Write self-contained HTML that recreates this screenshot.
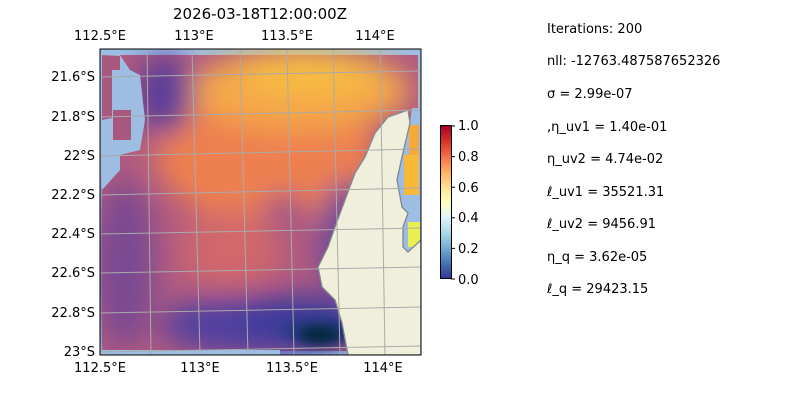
<!DOCTYPE html>
<html><head><meta charset="utf-8"><style>
body{margin:0;background:#fff;width:800px;height:400px;overflow:hidden;font-family:"Liberation Sans","DejaVu Sans",sans-serif}
svg text{font-family:"DejaVu Sans","Liberation Sans",sans-serif;fill:#000}
</style></head><body>
<svg width="800" height="400" viewBox="0 0 800 400" xmlns="http://www.w3.org/2000/svg">
<defs>
<linearGradient id="cb" x1="0" y1="1" x2="0" y2="0">
<stop offset="0" stop-color="#313695"/><stop offset="0.1" stop-color="#4575b4"/><stop offset="0.2" stop-color="#74add1"/><stop offset="0.3" stop-color="#abd9e9"/><stop offset="0.4" stop-color="#e0f3f8"/><stop offset="0.5" stop-color="#ffffbf"/><stop offset="0.6" stop-color="#fee090"/><stop offset="0.7" stop-color="#fdae61"/><stop offset="0.8" stop-color="#f46d43"/><stop offset="0.9" stop-color="#d73027"/><stop offset="1" stop-color="#a50026"/>
</linearGradient>
<filter id="bl" x="-50%" y="-50%" width="200%" height="200%"><feGaussianBlur stdDeviation="14"/></filter>
<filter id="bl2" x="-50%" y="-50%" width="200%" height="200%"><feGaussianBlur stdDeviation="6"/></filter>
<clipPath id="ax"><rect x="100" y="49" width="321" height="306"/></clipPath>
</defs>
<text x="260" y="19" font-size="15" text-anchor="middle">2026-03-18T12:00:00Z</text>
<g clip-path="url(#ax)">
<rect x="100" y="49" width="321" height="306" fill="#9dbde3"/>
<rect x="102" y="55" width="316" height="296" fill="#b05a80"/>
<g filter="url(#bl)">
<ellipse cx="265" cy="150" rx="110" ry="75" fill="#ee8050"/>
<ellipse cx="300" cy="90" rx="110" ry="40" fill="#f5a848"/>
<ellipse cx="310" cy="72" rx="70" ry="18" fill="#f8c040"/>
<ellipse cx="230" cy="250" rx="50" ry="40" fill="#d0686c"/>
<ellipse cx="165" cy="95" rx="28" ry="40" fill="#5a3e98"/>
<ellipse cx="125" cy="265" rx="30" ry="85" fill="#7a4a92"/>
<ellipse cx="260" cy="325" rx="100" ry="30" fill="#5040a0"/>
<ellipse cx="300" cy="320" rx="60" ry="25" fill="#3e3a9c"/>
<ellipse cx="345" cy="240" rx="25" ry="60" fill="#6a4a9a"/>
<ellipse cx="285" cy="210" rx="22" ry="16" fill="#9a5288"/>
</g>
<ellipse cx="320" cy="330" rx="40" ry="14" fill="#2a3a88" filter="url(#bl2)"/>
<ellipse cx="320" cy="335" rx="22" ry="9" fill="#062838" filter="url(#bl2)"/>
<path d="M102,56 L102,190 L120,170 L120,155 L140,150 L145,120 L140,75 L130,70 L120,55 Z" fill="#9dbde3"/>
<path d="M102,56 L102,120 L112,118 L112,70 L120,70 L120,56 Z" fill="#a8587e"/>
<rect x="113" y="110" width="18" height="30" fill="#a8587e"/>
<rect x="100" y="350" width="180" height="8" fill="#9dbde3"/>
<path d="M412,108 L418,108 L421,115 L421,240 L408,252 L403,247 L403,227 L408,213 L402,207 L397,180 L402,157 L410,123 Z" fill="#9dbde3"/>
<rect x="409" y="125" width="10" height="30" fill="#f8a838"/>
<rect x="404" y="155" width="15" height="40" fill="#f8b838"/>
<rect x="408" y="222" width="12" height="25" fill="#e8f050"/>
<path d="M408,110 L388,117 L375,133 L365,157 L355,173 L345,200 L335,227 L328,247 L318,267 L322,287 L335,300 L342,323 L348,355 L421,355 L421,240 L408,252 L403,247 L403,227 L408,213 L402,207 L397,180 L402,157 L410,123 Z" fill="#f0efdc" stroke="#808890" stroke-width="1.3"/>
<g stroke="#aaaaaa" stroke-width="1" fill="none">
<path d="M147,49 L151,355"/><path d="M192,49 L200,355"/><path d="M240,49 L248,355"/><path d="M287,49 L294,355"/><path d="M333,49 L340,355"/><path d="M380,49 L385,355"/>
<path d="M100,77 L421,71"/><path d="M100,117 L421,110"/><path d="M100,156 L421,149"/><path d="M100,195 L421,188"/><path d="M100,234 L421,228"/><path d="M100,273 L421,267"/><path d="M100,313 L421,307"/><path d="M100,352 L421,346"/>
</g>
</g>
<rect x="100" y="49" width="321" height="306" fill="none" stroke="#000" stroke-width="1"/>
<g font-size="13">
<text x="100" y="40" text-anchor="middle">112.5°E</text><text x="194" y="40" text-anchor="middle">113°E</text><text x="287" y="40" text-anchor="middle">113.5°E</text><text x="375" y="40" text-anchor="middle">114°E</text>
<text x="100" y="372" text-anchor="middle">112.5°E</text><text x="200" y="372" text-anchor="middle">113°E</text><text x="292" y="372" text-anchor="middle">113.5°E</text><text x="383" y="372" text-anchor="middle">114°E</text>
<text x="95" y="81" text-anchor="end">21.6°S</text><text x="95" y="121" text-anchor="end">21.8°S</text><text x="95" y="160" text-anchor="end">22°S</text><text x="95" y="199" text-anchor="end">22.2°S</text><text x="95" y="238" text-anchor="end">22.4°S</text><text x="95" y="277" text-anchor="end">22.6°S</text><text x="95" y="317" text-anchor="end">22.8°S</text><text x="95" y="356" text-anchor="end">23°S</text>
</g>
<rect x="440.5" y="125.5" width="11" height="153" fill="url(#cb)" stroke="#000" stroke-width="1"/>
<g stroke="#000"><path d="M451,126h4M451,156.6h4M451,187.2h4M451,217.8h4M451,248.4h4M451,279h4"/></g>
<g font-size="13"><text x="458" y="130">1.0</text><text x="458" y="161">0.8</text><text x="458" y="192">0.6</text><text x="458" y="222">0.4</text><text x="458" y="253">0.2</text><text x="458" y="284">0.0</text></g>
<g font-size="13">
<text x="547" y="33">Iterations: 200</text>
<text x="547" y="65">nll: -12763.487587652326</text>
<text x="547" y="98">σ = 2.99e-07</text>
<text x="547" y="131">,η_uv1 = 1.40e-01</text>
<text x="547" y="163">η_uv2 = 4.74e-02</text>
<text x="547" y="196">ℓ_uv1 = 35521.31</text>
<text x="547" y="228">ℓ_uv2 = 9456.91</text>
<text x="547" y="261">η_q = 3.62e-05</text>
<text x="547" y="293">ℓ_q = 29423.15</text>
</g>
</svg>
</body></html>
